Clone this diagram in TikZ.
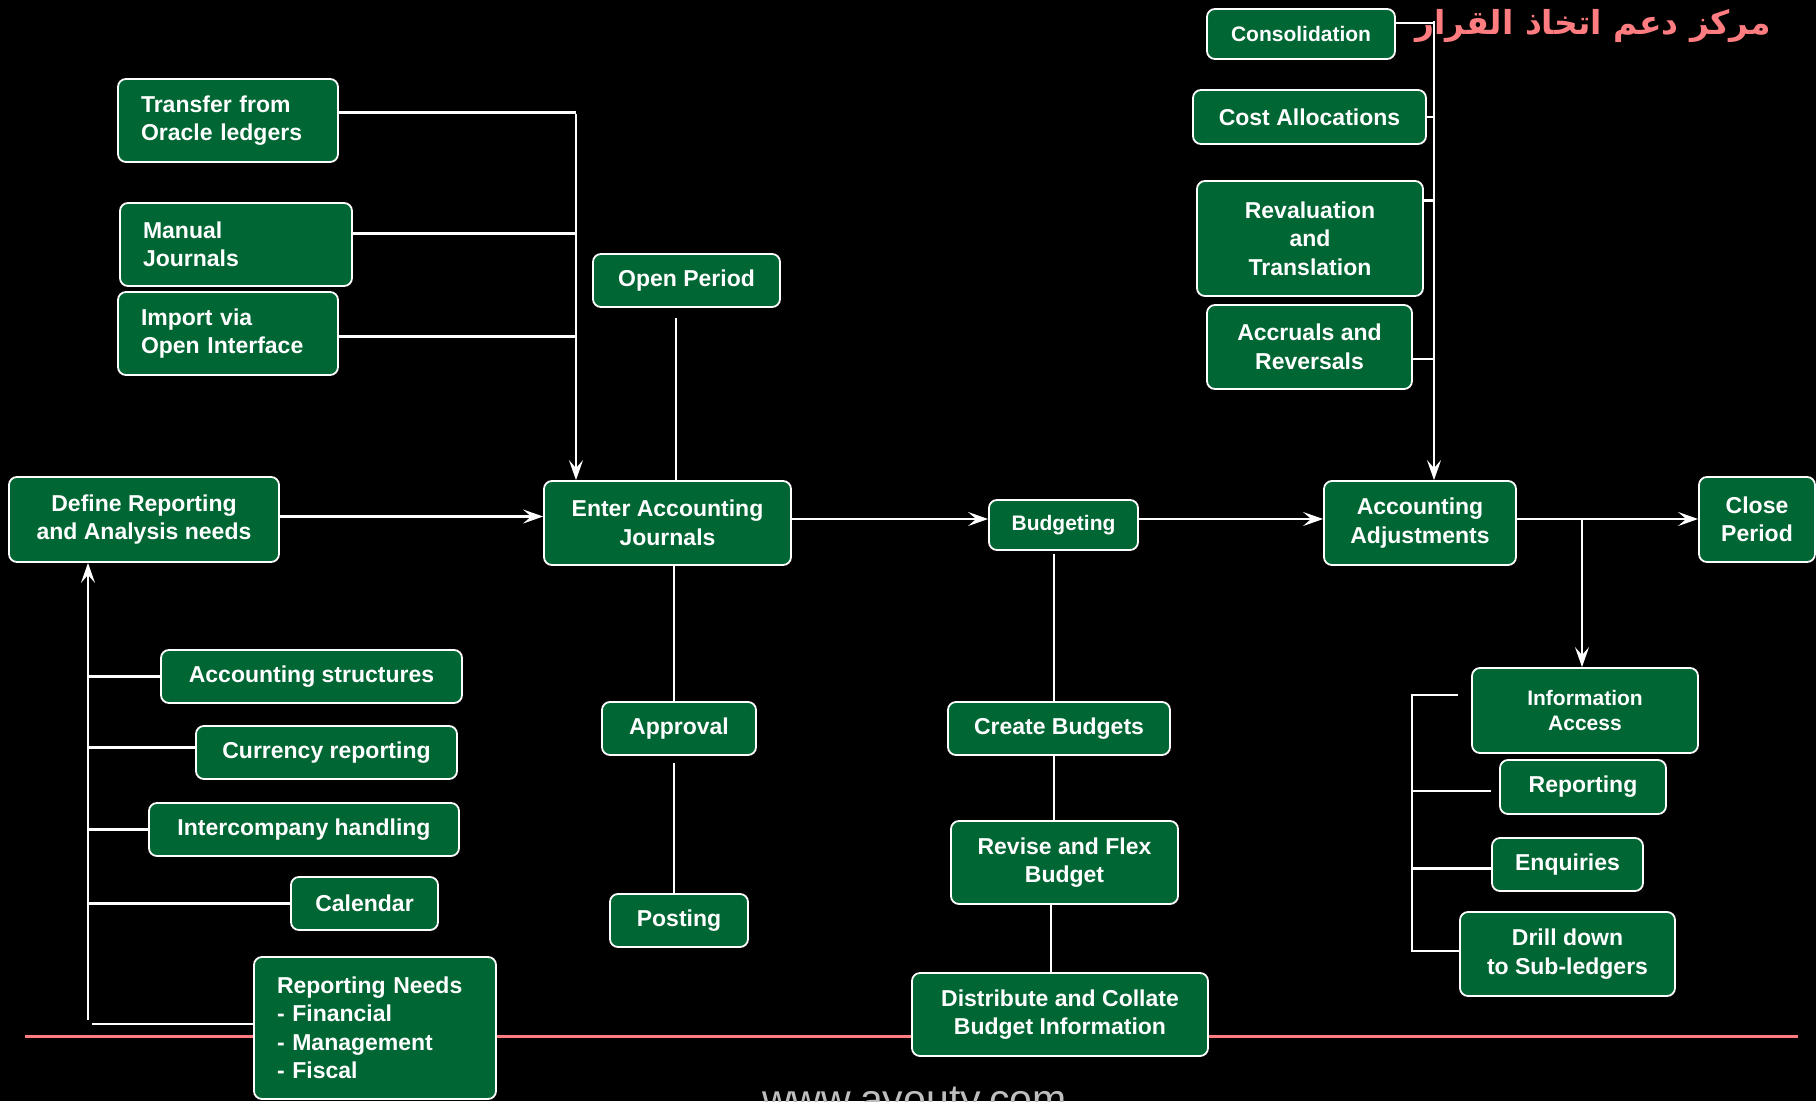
\documentclass[tikz,border=0pt]{standalone}
\usepackage{fontspec}
\setmainfont{Liberation Sans}
\newfontfamily\arabicfont[Script=Arabic]{DejaVu Sans}
\TeXXeTstate=1
\usetikzlibrary{arrows.meta}
\definecolor{boxgreen}{RGB}{0,102,51}
\definecolor{salmon}{RGB}{255,124,128}
\definecolor{webgrey}{RGB}{190,190,190}

\begin{document}
\begin{tikzpicture}[x=1pt,y=-1pt,
  box/.style={draw=white, line width=1.8pt, fill=boxgreen, rounded corners=8pt, text=white, inner sep=0pt, align=center, font=\bfseries\fontsize{23}{28.5}\selectfont},
  smallbox/.style={box, font=\bfseries\fontsize{21}{25}\selectfont},
  leftbox/.style={box, align=left, inner xsep=23pt},
  link/.style={draw=white, line width=2.2pt},
  arr/.style={link, -{Stealth[length=20pt,width=14pt,inset=8pt]}}]
\useasboundingbox (0,0) rectangle (1816,1101);
\clip (0,0) rectangle (1816,1101);
\fill[black] (0,0) rectangle (1816,1101);
\draw[salmon, line width=3pt] (25,1036) -- (1798,1036);

\node[font=\arabicfont\bfseries\fontsize{33}{33}\selectfont, text=salmon] (arabtitle) at (1593,26) {\beginR مركز دعم اتخاذ القرار\endR};
\node[font=\fontsize{41}{41}\selectfont, text=webgrey, anchor=base] (site) at (914.5,1113) {www.ayouty.com};

\node[leftbox, text width=174pt, minimum height=83pt] (trans) at (228,120.5) {Transfer from\\Oracle ledgers};
\node[leftbox, text width=186pt, minimum height=83pt] (manual) at (236,244.5) {Manual\\Journals};
\node[leftbox, text width=174pt, minimum height=83pt] (imp) at (228,333.5) {Import via\\Open Interface};
\node[box, minimum width=187pt, minimum height=53pt] (open) at (686.5,280.5) {Open Period};

\node[smallbox, minimum width=188pt, minimum height=50pt] (cons) at (1301,34) {Consolidation};
\node[box, minimum width=233pt, minimum height=54pt] (cost) at (1309.5,117) {Cost Allocations};
\node[box, minimum width=226pt, minimum height=115pt] (reval) at (1310,238.5) {Revaluation\\and\\Translation};
\node[box, minimum width=205pt, minimum height=84pt] (accr) at (1309.5,347) {Accruals and\\Reversals};

\node[box, minimum width=270pt, minimum height=85pt] (define) at (144,519.5) {Define Reporting\\and Analysis needs};
\node[box, minimum width=247pt, minimum height=84pt] (enter) at (667.5,523) {Enter Accounting\\Journals};
\node[smallbox, minimum width=149pt, minimum height=50pt] (budg) at (1063.5,525) {Budgeting};
\node[box, minimum width=192pt, minimum height=84pt] (adj) at (1420,523) {Accounting\\Adjustments};
\node[box, minimum width=116pt, minimum height=85pt] (close) at (1757,519.5) {Close\\Period};

\node[box, minimum width=301pt, minimum height=53pt] (acst) at (311.5,676.5) {Accounting structures};
\node[box, minimum width=261pt, minimum height=53pt] (curr) at (326.5,752.5) {Currency reporting};
\node[box, minimum width=310pt, minimum height=53pt] (inter) at (304,829.5) {Intercompany handling};
\node[box, minimum width=147pt, minimum height=53pt] (cal) at (364.5,903.5) {Calendar};
\node[leftbox, text width=196pt, minimum height=142pt] (needs) at (375,1028) {Reporting Needs\\- Financial\\- Management\\- Fiscal};

\node[box, minimum width=154pt, minimum height=53pt] (appr) at (679,728.5) {Approval};
\node[box, minimum width=138pt, minimum height=53pt] (post) at (679,920.5) {Posting};

\node[box, minimum width=222pt, minimum height=53pt] (create) at (1059,728.5) {Create Budgets};
\node[box, minimum width=227pt, minimum height=83pt] (revise) at (1064.5,862.5) {Revise and Flex\\Budget};
\node[box, minimum width=296pt, minimum height=83pt] (distr) at (1060,1014.5) {Distribute and Collate\\Budget Information};

\node[smallbox, minimum width=226pt, minimum height=85pt] (info) at (1585,710.5) {Information\\Access};
\node[box, minimum width=166pt, minimum height=54pt] (rep) at (1583,787) {Reporting};
\node[box, minimum width=151pt, minimum height=53pt] (enq) at (1567.5,864.5) {Enquiries};
\node[box, minimum width=215pt, minimum height=84pt] (drill) at (1567.5,954) {Drill down\\to Sub-ledgers};

\coordinate (jin) at (576,114);
\coordinate (opendrop) at (676,318);
\coordinate (jadj) at (1434,21);
\coordinate (jout) at (1582,523);
\coordinate (jdef) at (88,1020);
\coordinate (jneeds) at (92,1024);
\coordinate (jtop) at (1412,695);
\coordinate (jbot) at (1412,951);

\draw[link] ([yshift=8pt]trans.east) -- ([yshift=8pt]trans.east -| jin);
\draw[link] ([yshift=11pt]manual.east) -- ([yshift=11pt]manual.east -| jin);
\draw[link] ([yshift=-3pt]imp.east) -- ([yshift=-3pt]imp.east -| jin);
\draw[arr] (jin) -- (jin |- enter.north);
\draw[link] (opendrop) -- (opendrop |- enter.north);

\draw[link] ([yshift=11pt]cons.east) -- ([yshift=11pt]cons.east -| jadj);
\draw[link] (cost.east) -- (cost.east -| jadj);
\draw[link] ([yshift=38pt]reval.east) -- ([yshift=38pt]reval.east -| jadj);
\draw[link] ([yshift=-12pt]accr.east) -- ([yshift=-12pt]accr.east -| jadj);
\draw[arr] (jadj) -- (jadj |- adj.north);

\draw[arr] ([yshift=3pt]define.east) -- ([yshift=3pt]define.east -| enter.west);
\draw[arr] ([yshift=4pt]enter.east) -- ([yshift=4pt]enter.east -| budg.west);
\draw[arr] ([yshift=6pt]budg.east) -- ([yshift=6pt]budg.east -| adj.west);
\draw[arr] ([yshift=4pt]adj.east) -- ([yshift=4pt]adj.east -| close.west);
\draw[arr] ([yshift=4pt]jout) -- (jout |- info.north);

\draw[arr] (jdef) -- (jdef |- define.south);
\draw[link] (acst.west) -- (acst.west -| jdef);
\draw[link] ([yshift=5pt]curr.west) -- ([yshift=5pt]curr.west -| jdef);
\draw[link] (inter.west) -- (inter.west -| jdef);
\draw[link] (cal.west) -- (cal.west -| jdef);
\draw[link] (jneeds) -- (jneeds -| needs.west);

\draw[link] ([xshift=-5pt]appr.north) -- ([xshift=-5pt]appr.north |- enter.south);
\draw[link] ([xshift=-5pt,yshift=-7pt]appr.south) -- ([xshift=-5pt]post.north);
\draw[link] ([xshift=-5pt]create.north) -- ([xshift=-5pt,yshift=-3pt]create.north |- budg.south);
\draw[link] ([xshift=-5pt]create.south) -- ([xshift=-5pt]create.south |- revise.north);
\draw[link] ([xshift=-9pt]distr.north) -- ([xshift=-9pt]distr.north |- revise.south);

\draw[link] ([xshift=-13pt]info.west |- jtop) -- (jtop) -- (jbot) -- (drill.west |- jbot);
\draw[link] ([xshift=-8pt,yshift=-4pt]rep.west) -- ([yshift=-4pt]rep.west -| jtop);
\draw[link] ([yshift=-4pt]enq.west) -- ([yshift=-4pt]enq.west -| jtop);
\end{tikzpicture}
\end{document}
